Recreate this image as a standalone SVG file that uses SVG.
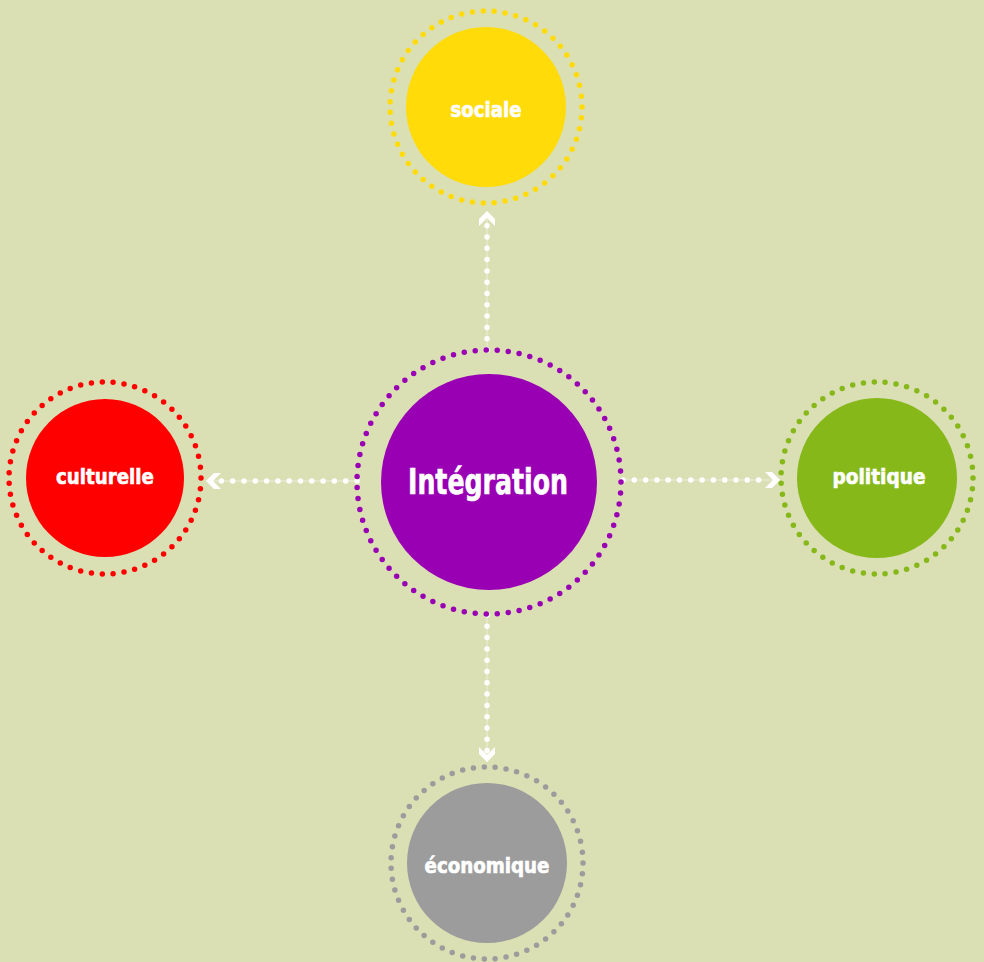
<svg xmlns="http://www.w3.org/2000/svg" width="984" height="962" viewBox="0 0 984 962">
<defs>
<style>
.ring{fill:none;stroke-width:5.5;stroke-linecap:round;stroke-dasharray:0 1}
.lbl{fill:#ffffff;font-family:"DejaVu Sans Condensed","Liberation Sans Narrow","Liberation Sans",sans-serif;font-weight:bold;text-anchor:middle;stroke:#ffffff;stroke-width:0.6}
.conn{fill:none;stroke:#ffffff}
.thin{stroke-width:1;stroke-opacity:0.5}
.dots{stroke-width:5.5;stroke-linecap:round;stroke-dasharray:0 11.3}
</style>
<marker id="chev" markerUnits="userSpaceOnUse" markerWidth="20" markerHeight="20" refX="16" refY="10" orient="auto" viewBox="0 0 20 20">
<path d="M16,10 L8,2 L1,2 L9,10 L1,18 L8,18 Z" fill="#ffffff"/>
</marker>
</defs>
<rect width="984" height="962" fill="#dbdfb4"/>
<g id="connectors">
<path class="conn thin" d="M487,350 L487,211" marker-end="url(#chev)"/>
<path class="conn dots" d="M487,350 L487,222"/>
<path class="conn thin" d="M357,481 L206,481" marker-end="url(#chev)"/>
<path class="conn dots" d="M357,481 L217,481"/>
<path class="conn thin" d="M623,480 L780,480" marker-end="url(#chev)"/>
<path class="conn dots" d="M623,480 L769,480"/>
<path class="conn thin" d="M487,615 L487,762" marker-end="url(#chev)"/>
<path class="conn dots" d="M487,615 L487,751"/>
</g>
<g id="node-integration">
<circle cx="489" cy="482" r="132" class="ring" stroke="#9900b3" pathLength="75"/>
<circle cx="489" cy="482" r="108" fill="#9900b3"/>
<text x="488" y="494" class="lbl" font-size="35" textLength="160" lengthAdjust="spacingAndGlyphs">Intégration</text>
</g>
<g id="node-sociale">
<circle cx="486" cy="107" r="96" class="ring" stroke="#ffdb0a" pathLength="55"/>
<circle cx="486" cy="107" r="80" fill="#ffdb0a"/>
<text x="486" y="117" class="lbl" font-size="21" textLength="71" lengthAdjust="spacingAndGlyphs">sociale</text>
</g>
<g id="node-culturelle">
<circle cx="105" cy="478" r="96" class="ring" stroke="#ff0000" pathLength="55"/>
<circle cx="105" cy="478" r="79" fill="#ff0000"/>
<text x="105" y="484" class="lbl" font-size="21" textLength="98" lengthAdjust="spacingAndGlyphs">culturelle</text>
</g>
<g id="node-politique">
<circle cx="877" cy="478" r="96" class="ring" stroke="#86b81a" pathLength="55"/>
<circle cx="877" cy="478" r="80" fill="#86b81a"/>
<text x="879" y="484" class="lbl" font-size="21" textLength="93" lengthAdjust="spacingAndGlyphs">politique</text>
</g>
<g id="node-economique">
<circle cx="487" cy="863" r="96" class="ring" stroke="#9c9c9c" pathLength="55"/>
<circle cx="487" cy="863" r="80" fill="#9c9c9c"/>
<text x="487" y="873" class="lbl" font-size="21" textLength="125" lengthAdjust="spacingAndGlyphs">économique</text>
</g>
</svg>
